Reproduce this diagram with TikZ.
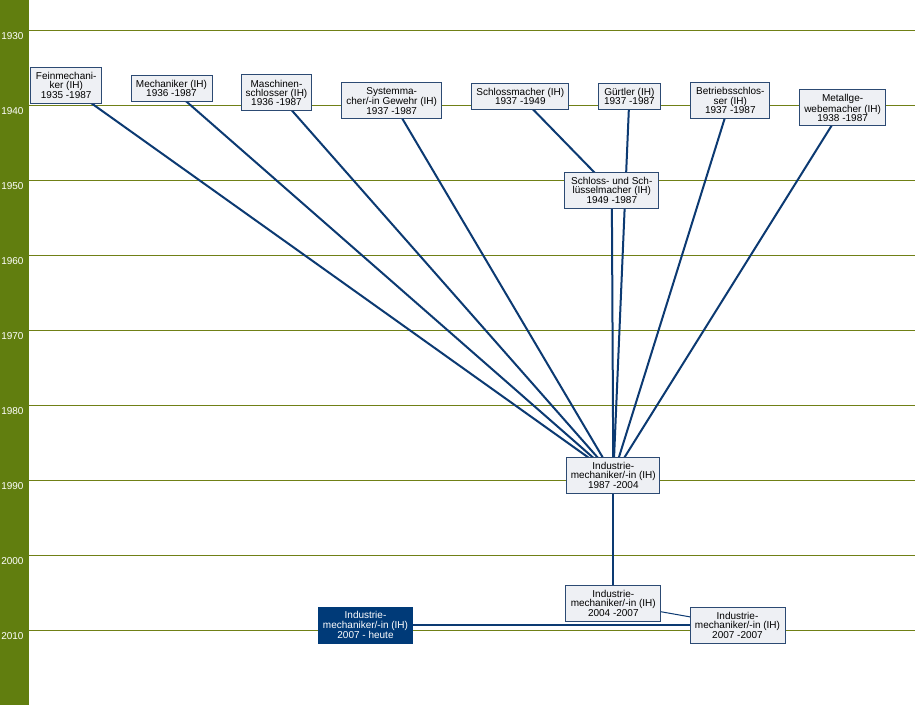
\documentclass[tikz,border=0pt]{standalone}
\usepackage{fontspec}
\setmainfont{Liberation Sans}
\definecolor{bargreen}{RGB}{97,126,15}
\definecolor{gridolive}{RGB}{112,128,22}
\definecolor{edgeblue}{RGB}{12,58,114}
\definecolor{boxborder}{RGB}{44,74,115}
\definecolor{boxfill}{RGB}{238,240,244}
\definecolor{darkbox}{RGB}{0,58,120}
\pgfdeclarelayer{bg}
\pgfdeclarelayer{edges}
\pgfsetlayers{bg,edges,main}
\tikzset{
  job/.style={draw=boxborder, fill=boxfill, line width=0.75pt, align=center,
    inner sep=0pt, font=\fontsize{7.5pt}{6.9pt}\selectfont, text=black,
    minimum height=27pt},
  jobtwo/.style={job, minimum height=19.5pt},
  current/.style={job, fill=darkbox, draw=darkbox, text=white},
  link/.style={draw=edgeblue, line width=1.5pt},
  thinlink/.style={draw=edgeblue, line width=0.75pt},
  gridline/.style={draw=gridolive, line width=0.75pt},
  yearlabel/.style={anchor=west, text=white, inner sep=0pt,
    font=\fontsize{7.5pt}{9pt}\selectfont}
}
\begin{document}
\begin{tikzpicture}[x=0.75pt,y=-0.75pt]
\useasboundingbox (0,0) rectangle (915,705);
\begin{pgfonlayer}{bg}
  \fill[white] (0,0) rectangle (915,705);
  \fill[bargreen] (0,0) rectangle (29,705);
  \foreach \yr [count=\i from 0] in {1930,1940,1950,1960,1970,1980,1990,2000,2010} {
    \draw[gridline] (29,31+75*\i) -- (915,31+75*\i);
    \node[yearlabel] (y\yr) at (1,36.5+75*\i) {\yr};
  }
\end{pgfonlayer}

\node[job, minimum width=53.25pt] (fein) at (66.2,85.3) {Feinmechani-\\ker (IH)\\1935 -1987};
\node[jobtwo, minimum width=60.75pt] (mech) at (171.5,88.5) {Mechaniker (IH)\\1936 -1987};
\node[job, minimum width=52.8pt] (masch) at (276.5,93) {Maschinen-\\schlosser (IH)\\1936 -1987};
\node[job, minimum width=75pt] (system) at (391.7,100.7) {Systemma-\\cher/-in Gewehr (IH)\\1937 -1987};
\node[jobtwo, minimum width=73pt] (schlossm) at (520.3,96.3) {Schlossmacher (IH)\\1937 -1949};
\node[jobtwo, minimum width=46.5pt] (guertler) at (629.4,96.3) {Gürtler (IH)\\1937 -1987};
\node[job, minimum width=59.5pt] (betrieb) at (730.3,100.5) {Betriebsschlos-\\ser (IH)\\1937 -1987};
\node[job, minimum width=65pt] (metall) at (842.6,108) {Metallge-\\webemacher (IH)\\1938 -1987};
\node[job, minimum width=70.3pt] (schluessel) at (611.8,190.3) {Schloss- und Sch-\\lüsselmacher (IH)\\1949 -1987};
\node[job, minimum width=70pt] (im1987) at (613.3,475.3) {Industrie-\\mechaniker/-in (IH)\\1987 -2004};
\node[job, minimum width=71pt] (im2004) at (613.3,603.3) {Industrie-\\mechaniker/-in (IH)\\2004 -2007};
\node[job, minimum width=71.25pt] (im2007) at (737.5,625.3) {Industrie-\\mechaniker/-in (IH)\\2007 -2007};
\node[current, minimum width=70.8pt] (heute) at (365.5,625.3) {Industrie-\\mechaniker/-in (IH)\\2007 - heute};

\begin{pgfonlayer}{edges}
  \foreach \src in {fein,mech,masch,system,guertler,schluessel,betrieb,metall}
    \draw[link] (\src.center) -- (im1987.center);
  \draw[link] (schlossm.center) -- (schluessel.center);
  \draw[link] (im1987.center) -- (im2004.center);
  \draw[thinlink] (im2004.center) -- (im2007.center);
  \draw[link] (heute.center) -- (im2007.center);
\end{pgfonlayer}
\end{tikzpicture}
\end{document}
